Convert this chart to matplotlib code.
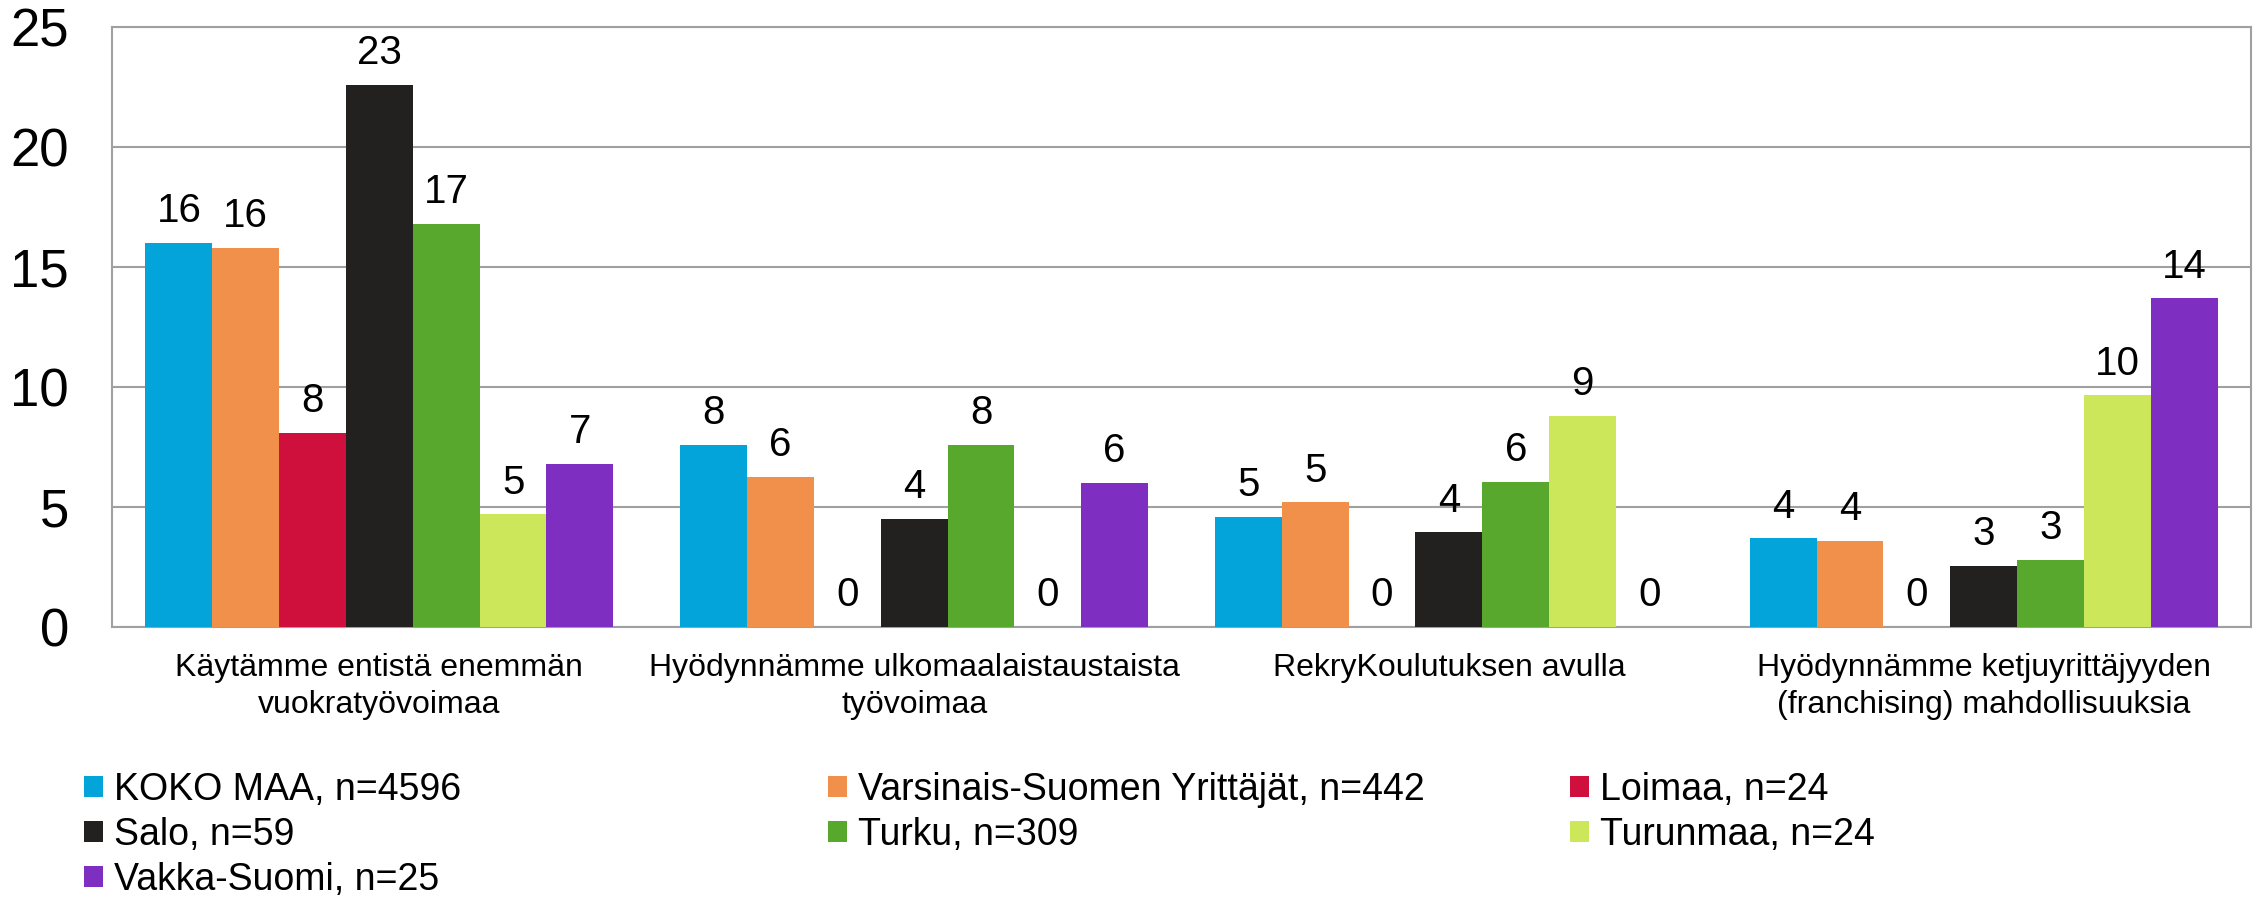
import numpy as np
import matplotlib
matplotlib.use("Agg")
import matplotlib.pyplot as plt

plt.rcParams['font.family'] = ['Liberation Sans', 'DejaVu Sans']

# Data
categories = [
    "Käytämme entistä enemmän\nvuokratyövoimaa",
    "Hyödynnämme ulkomaalaistaustaista\ntyövoimaa",
    "RekryKoulutuksen avulla",
    "Hyödynnämme ketjuyrittäjyyden\n(franchising) mahdollisuuksia",
]
series_names = [
    "KOKO MAA, n=4596",
    "Varsinais-Suomen Yrittäjät, n=442",
    "Loimaa, n=24",
    "Salo, n=59",
    "Turku, n=309",
    "Turunmaa, n=24",
    "Vakka-Suomi, n=25",
]
koko_maa = [16.0, 7.6, 4.6, 3.7]
varsinais = [15.8, 6.25, 5.2, 3.6]
loimaa = [8.1, 0, 0, 0]
salo = [22.6, 4.5, 3.95, 2.55]
turku = [16.8, 7.6, 6.05, 2.8]
turunmaa = [4.7, 0, 8.8, 9.65]
vakka = [6.8, 6.0, 0, 13.7]
series_values = [koko_maa, varsinais, loimaa, salo, turku, turunmaa, vakka]
colors = ["#03A4DA", "#F0904A", "#CF103D", "#232120", "#58A82D", "#CCE85A", "#7E2EC0"]

W, H = 2260, 898
fig = plt.figure(figsize=(W / 100, H / 100), dpi=100)
ax = fig.add_axes([112 / W, 1 - 627 / H, (2251 - 112) / W, 600 / H])

x = np.arange(len(categories))
bw = 0.125
n = len(series_values)
bars = []
for i, (vals, col, name) in enumerate(zip(series_values, colors, series_names)):
    pos = x + (i - (n - 1) / 2) * bw
    b = ax.bar(pos, vals, width=bw, color=col, label=name, zorder=3)
    bars.append(b)
    for px, v in zip(pos, vals):
        ax.annotate(f"{v:.0f}", (px, v), xytext=(0, 9), textcoords="offset points",
                    ha="center", va="bottom", fontsize=29, color="black")

ax.set_xlim(-0.5, len(categories) - 0.5)
ax.set_ylim(0, 25)
ax.set_yticks([0, 5, 10, 15, 20, 25])
ax.set_xticks(x)
ax.set_xticklabels(categories, fontsize=23, linespacing=1.3)
ax.tick_params(axis="y", length=0, labelsize=38, pad=31)
ax.tick_params(axis="x", length=0, pad=19)
ax.yaxis.grid(True, color="#A0A0A0", linewidth=1.5, zorder=0)
for s in ax.spines.values():
    s.set_color("#A0A0A0")
    s.set_linewidth(1.5)

# legend laid out in three fixed columns like the original
col_x = [84, 828, 1570]
col_members = [[0, 3, 6], [1, 4], [2, 5]]
for cx, members in zip(col_x, col_members):
    fig.legend([bars[k] for k in members], [series_names[k] for k in members],
               loc="upper left", bbox_to_anchor=(cx / W, 1 - 772 / H),
               frameon=False, fontsize=27, borderpad=0, borderaxespad=0,
               handlelength=0.5, handleheight=0.5, handletextpad=0.3,
               labelspacing=0.24)

fig.savefig("out.png", dpi=100)
